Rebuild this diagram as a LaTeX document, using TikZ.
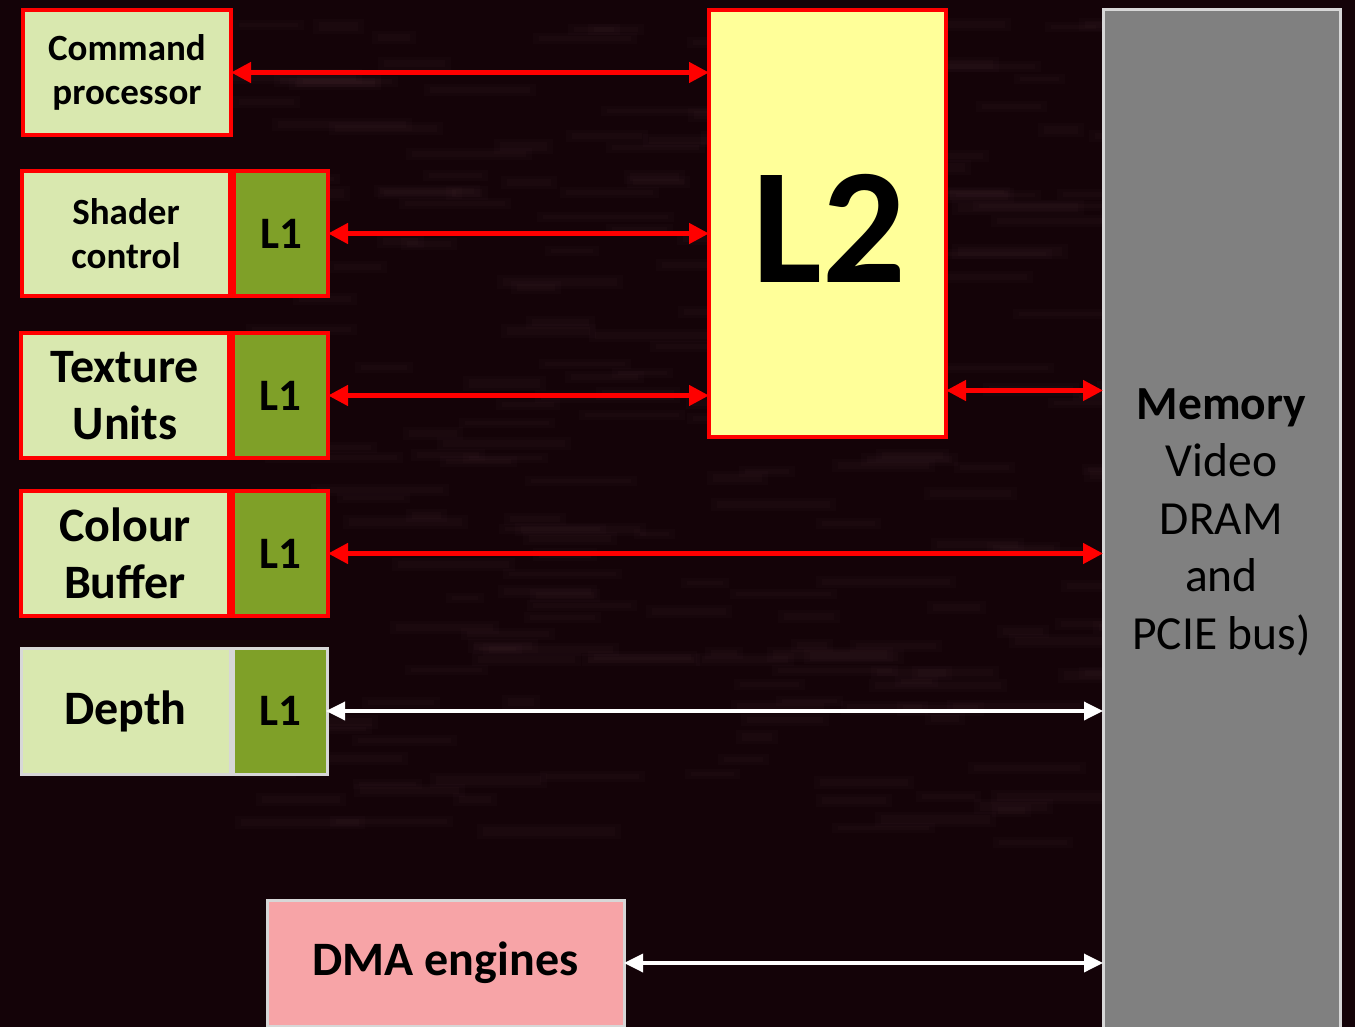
\documentclass[tikz,border=0pt]{standalone}
\usepackage{fontspec}
\setmainfont{Carlito}
\usetikzlibrary{arrows.meta}

\definecolor{bgdark}{RGB}{20,3,8}
\definecolor{streak}{RGB}{95,62,70}
\definecolor{redline}{RGB}{255,0,0}
\definecolor{paleg}{RGB}{217,232,175}
\definecolor{olive}{RGB}{127,160,40}
\definecolor{pale yellow}{RGB}{255,255,153}
\definecolor{memgrey}{RGB}{128,128,128}
\definecolor{rimgrey}{RGB}{215,215,215}
\definecolor{dmapink}{RGB}{247,164,167}

% box from pixel corners (x1,y1)-(x2,y2): style, name, x1, y1, x2, y2, text
\newcommand\blk[7]{%
  \node[#1, minimum width={(#5)-(#3)-4}, minimum height={(#6)-(#4)-4}]
    (#2) at ({((#3)+(#5))/2},{((#4)+(#6))/2}) {#7};}

\begin{document}
\begin{tikzpicture}[x=1pt, y=-1pt,
  base/.style={inner sep=0pt, outer sep=0pt, align=center, text=black},
  redbox/.style={base, draw=redline, line width=4pt},
  greybox/.style={base, draw=rimgrey, line width=3pt},
  unitA/.style={redbox, fill=paleg, font=\fontsize{37}{44}\selectfont\bfseries},
  unitB/.style={redbox, fill=paleg, font=\fontsize{48}{57}\selectfont\bfseries},
  cache/.style={redbox, fill=olive, font=\fontsize{45}{50}\selectfont\bfseries},
  redlink/.style={draw=redline, line width=4.5pt,
    {Triangle[length=20pt,width=20pt]}-{Triangle[length=20pt,width=20pt]}},
  whitelink/.style={draw=white, line width=3.5pt,
    {Triangle[length=19pt,width=18pt]}-{Triangle[length=19pt,width=18pt]}}]

% dark backdrop with soft horizontal streaks
\path[use as bounding box, fill=bgdark] (0,0) rectangle (1355,1027);
\clip (0,0) rectangle (1355,1027);
\pgfmathsetseed{11}
\foreach \i in {1,...,240}{
  \pgfmathsetmacro\sx{rnd*900+230}
  \pgfmathsetmacro\sy{rnd*820+20}
  \pgfmathsetmacro\sl{rnd*110+25}
  \pgfmathsetmacro\sh{rnd*5+4}
  \fill[streak, opacity=0.05] (\sx-6,\sy-3) rectangle ({\sx+\sl+6},{\sy+\sh+3});
  \fill[streak, opacity=0.06] (\sx,\sy) rectangle ({\sx+\sl},{\sy+\sh});
}

% units on the left
\blk{unitA}{cp}{21}{8}{233}{137}{Command\\processor}
\blk{unitA}{sc}{20}{169}{232}{298}{Shader\\control}
\blk{cache}{sl1}{232}{169}{330}{298}{L1}
\blk{unitB}{tu}{19}{331}{231}{460}{Texture\\Units}
\blk{cache}{tl1}{231}{331}{330}{460}{L1}
\blk{unitB}{cb}{19}{489}{231}{618}{Colour\\Buffer}
\blk{cache}{cl1}{231}{489}{330}{618}{L1}
\blk{greybox, fill=paleg, font=\fontsize{48}{57}\selectfont\bfseries}{dp}{19}{646}{232}{776}{Depth}
\blk{greybox, fill=olive, font=\fontsize{45}{50}\selectfont\bfseries}{dl1}{231}{646}{329}{776}{L1}

% shared L2
\blk{redbox, fill=pale yellow}{l2}{707}{8}{948}{439}{}
\node[base, font=\fontsize{165}{170}\selectfont\bfseries] (l2t) at (829,228) {L2};

% memory column
\blk{greybox, fill=memgrey, font=\fontsize{47.5}{57.5}\selectfont}{mem}{1101}{8}{1342}{1036}{{\bfseries Memory}\\Video\\DRAM\\and\\PCIE bus)}

% DMA engines
\blk{greybox, fill=dmapink, font=\fontsize{48}{52}\selectfont\bfseries}{dma}{265}{898}{626}{1028}{DMA engines}

% connectors
\draw[redlink] (cp.east) -- (cp.east -| l2.west);
\draw[redlink] (sl1.east) -- (sl1.east -| l2.west);
\draw[redlink] (tl1.east) -- (tl1.east -| l2.west);
\draw[redlink] ([yshift=5pt]l2.east |- tl1.east) -- ([yshift=5pt]mem.west |- tl1.east);
\draw[redlink] (cl1.east) -- (cl1.east -| mem.west);
\draw[whitelink] ([xshift=-1pt]dl1.east) -- (dl1.east -| mem.west);
\draw[whitelink] (dma.east) -- (dma.east -| mem.west);
\end{tikzpicture}
\end{document}
